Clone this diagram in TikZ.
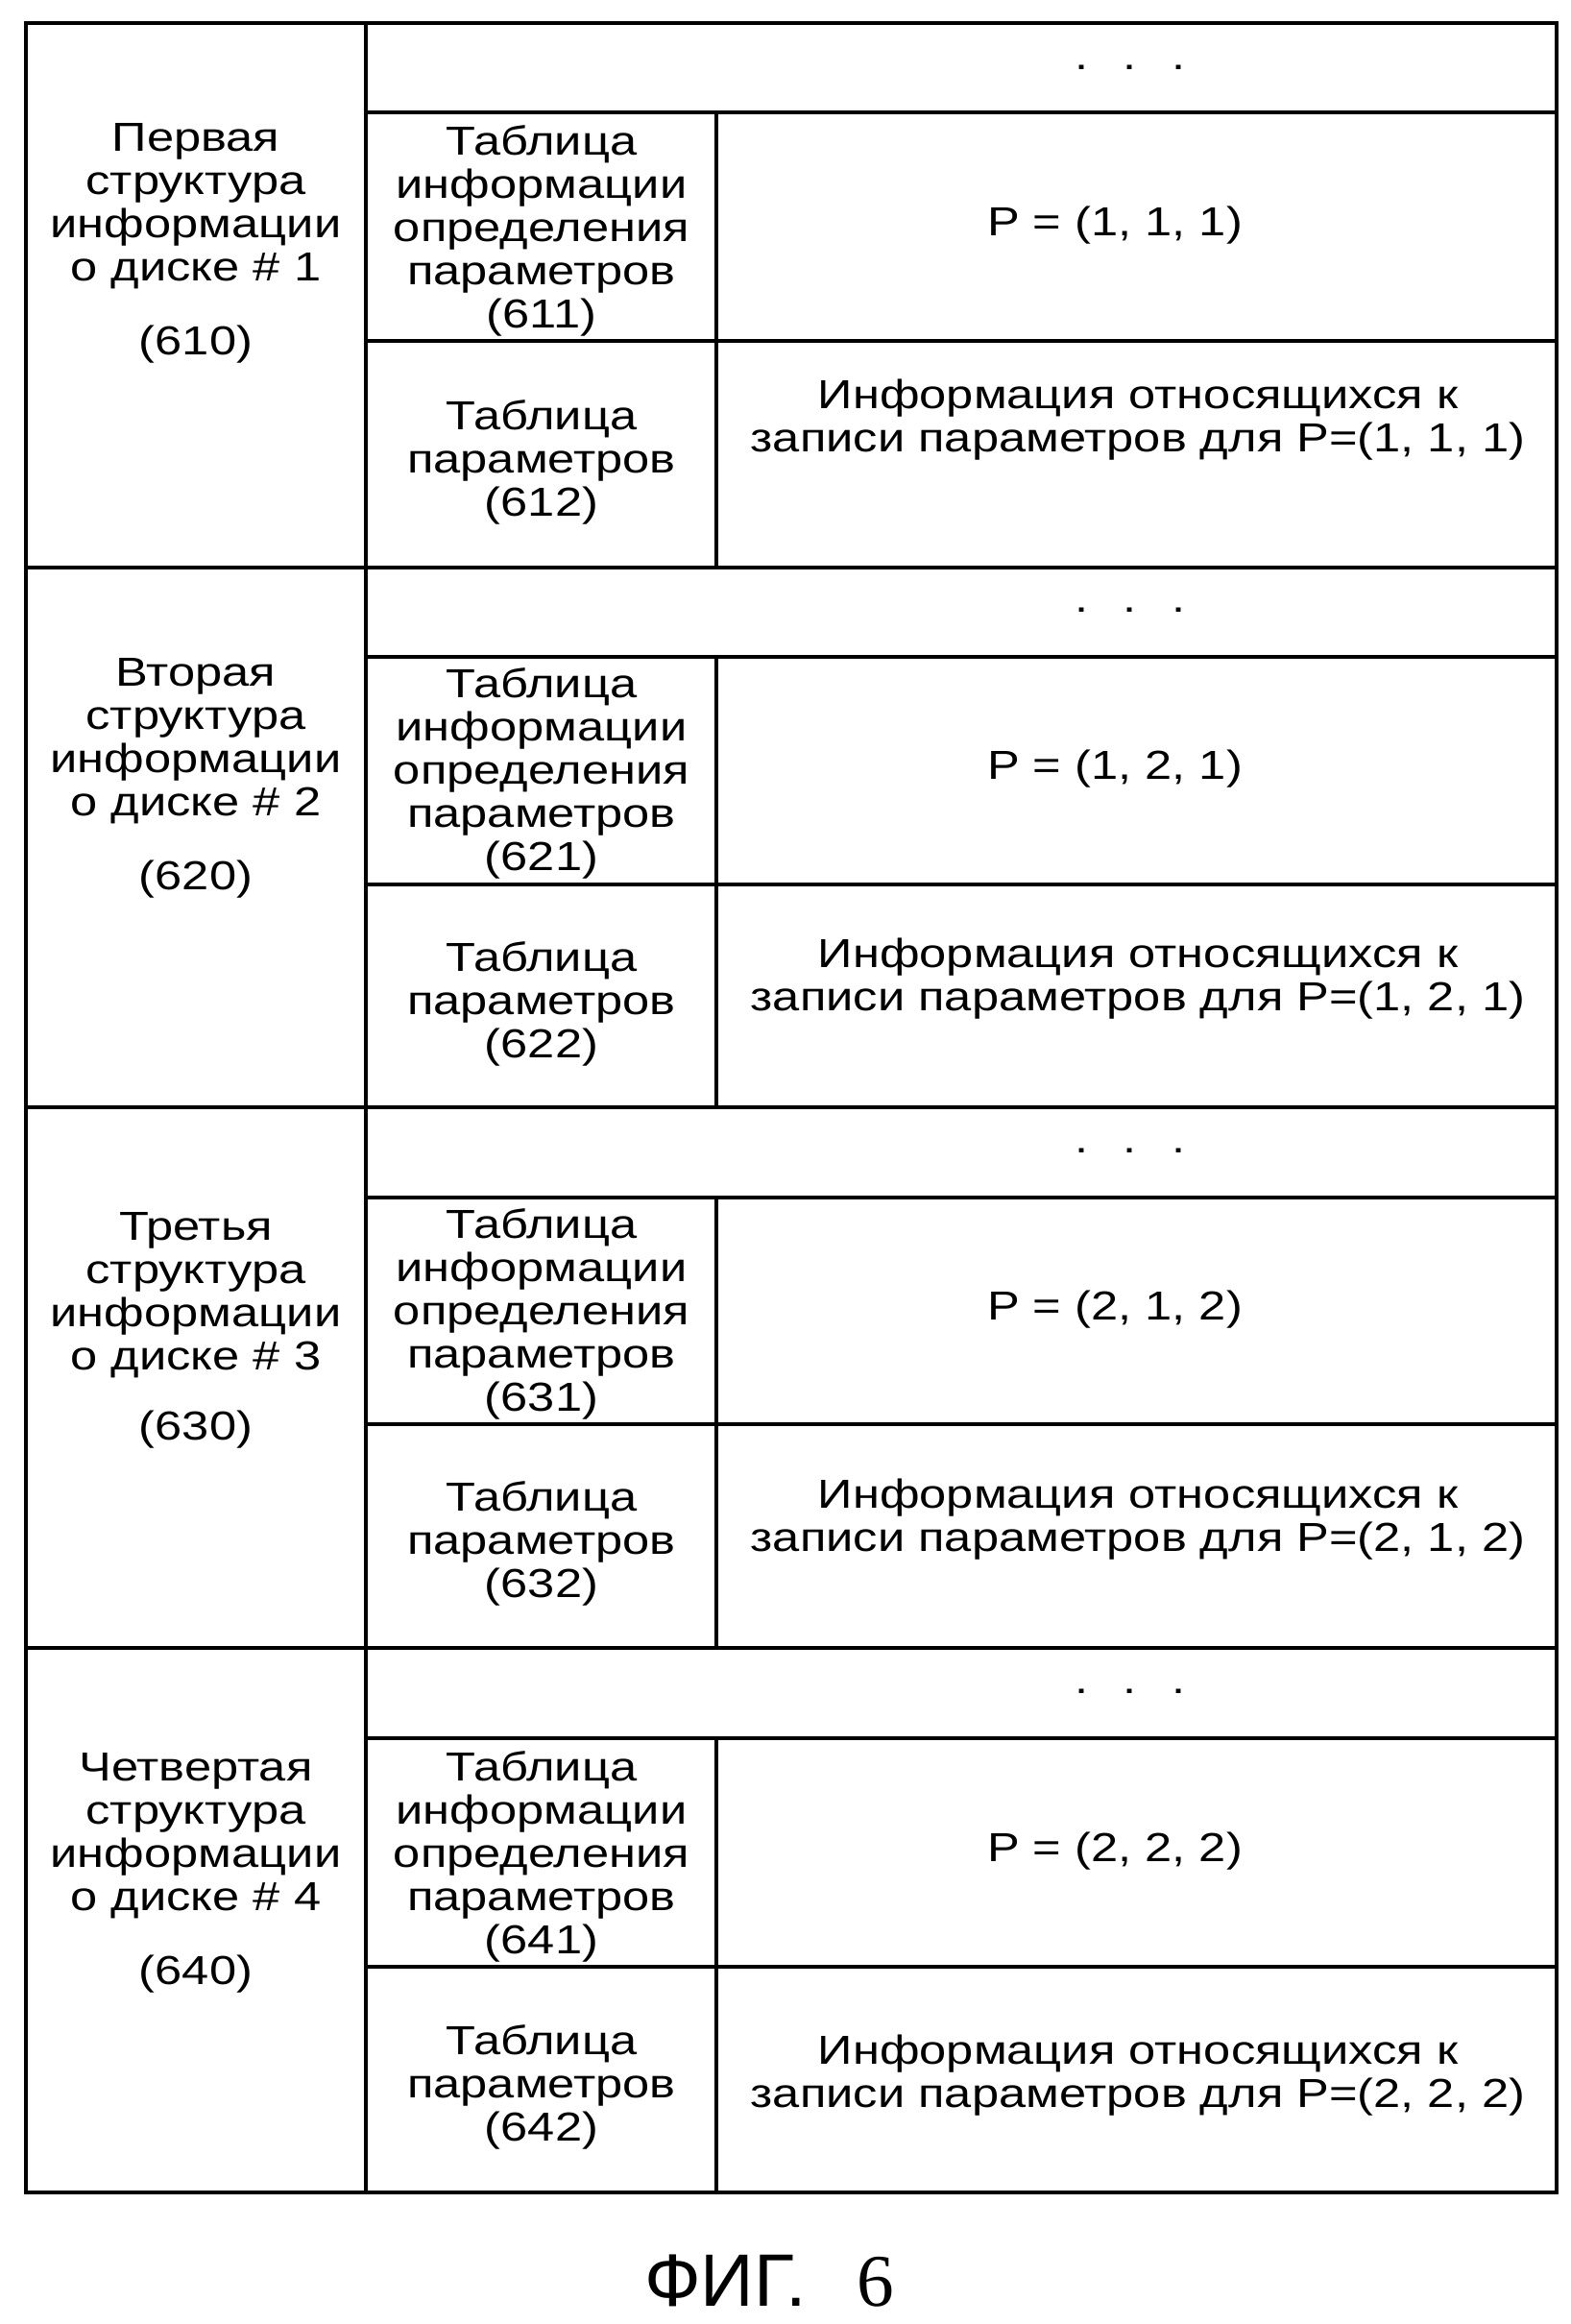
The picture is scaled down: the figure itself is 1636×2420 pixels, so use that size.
\documentclass[tikz,border=0pt]{standalone}
\usepackage{fontspec}
\setmainfont{Liberation Sans}
\newfontfamily\widefont[FakeStretch=1.2]{Liberation Sans}
\newfontfamily\seriffont{Liberation Serif}
\usepackage{tikz}

\begin{document}
\begin{tikzpicture}[x=0.1mm, y=-0.1mm,
  cell/.style={font={\widefont\fontsize{12}{12.8}\selectfont}, align=center, inner sep=0pt},
  rule/.style={line width=1.2pt}]
\useasboundingbox (0,0) rectangle (1636,2420);

% Frame and first column
\draw[rule] (27,24) rectangle (1621,2283);
\draw[rule] (381,24) -- (381,2283);

% Group borders
\draw[rule] (27,591) -- (1621,591);
\draw[rule] (27,1153) -- (1621,1153);
\draw[rule] (27,1716) -- (1621,1716);

% Rows inside the groups
\draw[rule] (381,117) -- (1621,117);
\draw[rule] (381,355) -- (1621,355);
\draw[rule] (746,117) -- (746,591);
\draw[rule] (381,684) -- (1621,684);
\draw[rule] (381,921) -- (1621,921);
\draw[rule] (746,684) -- (746,1153);
\draw[rule] (381,1247) -- (1621,1247);
\draw[rule] (381,1483) -- (1621,1483);
\draw[rule] (746,1247) -- (746,1716);
\draw[rule] (381,1810) -- (1621,1810);
\draw[rule] (381,2048) -- (1621,2048);
\draw[rule] (746,1810) -- (746,2283);

% Disk 1
\node[cell, anchor=north] (disk1) at (204,128) {Первая\\структура\\информации\\о диске \# 1\\[9pt](610)};
\node[cell] (dots1) at (1177,70) {.\hspace{10.5pt}.\hspace{10.5pt}.};
\node[cell] (def1) at (564,240) {Таблица\\информации\\определения\\параметров\\(611)};
\node[cell] (par1) at (564,481) {Таблица\\параметров\\(612)};
\node[cell] (pval1) at (1161,235) {P = (1, 1, 1)};
\node[cell] (info1) at (1185,437) {Информация относящихся к\\записи параметров для P=(1, 1, 1)};

% Disk 2
\node[cell, anchor=north] (disk2) at (204,685) {Вторая\\структура\\информации\\о диске \# 2\\[9pt](620)};
\node[cell] (dots2) at (1177,635) {.\hspace{10.5pt}.\hspace{10.5pt}.};
\node[cell] (def2) at (564,805) {Таблица\\информации\\определения\\параметров\\(621)};
\node[cell] (par2) at (564,1045) {Таблица\\параметров\\(622)};
\node[cell] (pval2) at (1161,801) {P = (1, 2, 1)};
\node[cell] (info2) at (1185,1019) {Информация относящихся к\\записи параметров для P=(1, 2, 1)};

% Disk 3
\node[cell, anchor=north] (disk3) at (204,1262) {Третья\\структура\\информации\\о диске \# 3\\[8pt](630)};
\node[cell] (dots3) at (1177,1198) {.\hspace{10.5pt}.\hspace{10.5pt}.};
\node[cell] (def3) at (564,1368) {Таблица\\информации\\определения\\параметров\\(631)};
\node[cell] (par3) at (564,1607) {Таблица\\параметров\\(632)};
\node[cell] (pval3) at (1161,1364) {P = (2, 1, 2)};
\node[cell] (info3) at (1185,1582) {Информация относящихся к\\записи параметров для P=(2, 1, 2)};

% Disk 4
\node[cell, anchor=north] (disk4) at (204,1825) {Четвертая\\структура\\информации\\о диске \# 4\\[9pt](640)};
\node[cell] (dots4) at (1177,1761) {.\hspace{10.5pt}.\hspace{10.5pt}.};
\node[cell] (def4) at (564,1933) {Таблица\\информации\\определения\\параметров\\(641)};
\node[cell] (par4) at (564,2173) {Таблица\\параметров\\(642)};
\node[cell] (pval4) at (1161,1928) {P = (2, 2, 2)};
\node[cell] (info4) at (1185,2161) {Информация относящихся к\\записи параметров для P=(2, 2, 2)};

% Caption
\node[font=\fontsize{22}{24}\selectfont, inner sep=0pt] (fig) at (801,2375) {ФИГ.\hspace{15pt}{\seriffont 6}};
\end{tikzpicture}
\end{document}
